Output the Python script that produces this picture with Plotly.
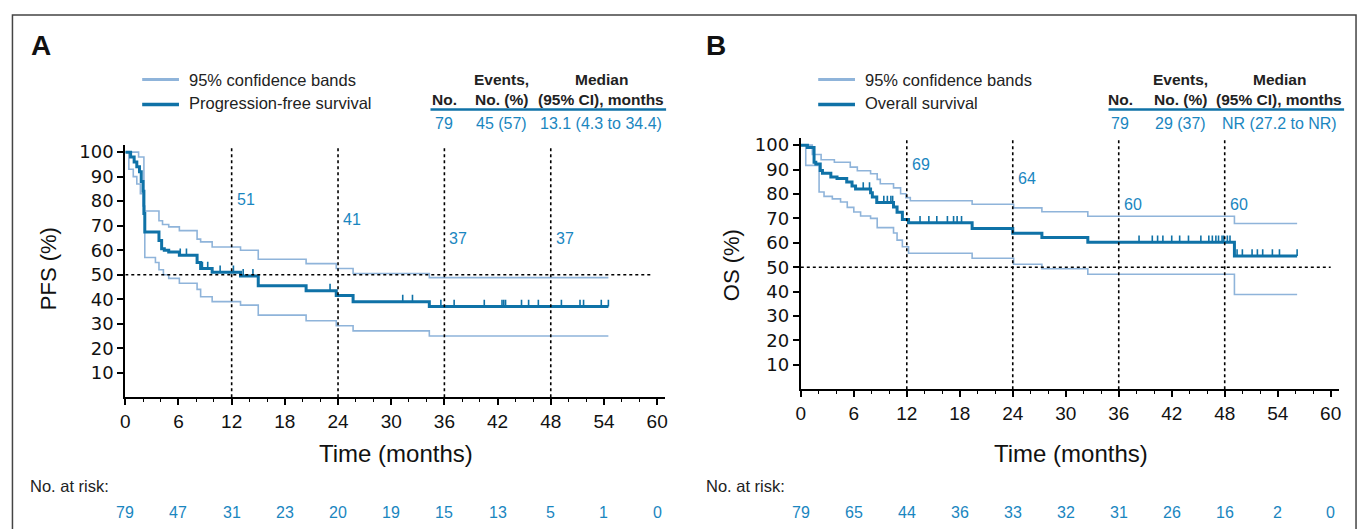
import numpy as np
import plotly.graph_objects as go

# ---------------- data ----------------
month_ticks = [0, 6, 12, 18, 24, 30, 36, 42, 48, 54, 60]
milestones = [12, 24, 36, 48]

# Panel A: progression-free survival (step points)
pfs_t = [0, 0.6, 1.0, 1.3, 1.6, 1.8, 2.0, 2.1, 2.2, 3.8, 4.1, 4.4, 4.9, 6.1, 8.1, 8.5, 9.8,
         13.0, 15.0, 20.4, 23.8, 25.7, 34.3, 54.5]
pfs_s = [100, 98, 96, 94, 92, 88, 84, 75, 67.4, 64, 60.6, 60, 59.3, 57.9, 55, 52.5, 51,
         49.5, 45.5, 43.5, 41.5, 39, 37, 37]
pfs_up_t = [0, 1.5, 2.1, 3.8, 4.2, 4.9, 6.1, 8.1, 8.5, 9.8, 13.0, 15.0, 20.4, 23.8, 25.7, 34.3, 54.5]
pfs_up_s = [100, 98, 76, 72, 70.5, 69.5, 68, 64.5, 63.4, 61.3, 60, 56.3, 54.5, 52.5, 50.5, 48.8, 48.8]
pfs_lo_t = [0, 0.4, 0.9, 1.3, 1.7, 2.0, 2.2, 3.4, 3.8, 4.3, 4.9, 6.1, 8.1, 8.5, 9.8, 13.0, 15.0,
            20.4, 23.8, 25.7, 34.3, 54.5]
pfs_lo_s = [100, 93, 90, 87, 83, 78, 57, 55, 52, 50, 48.5, 46.5, 44, 41, 39, 37.6, 33.5,
            31.2, 29.2, 27.1, 25, 25]
pfs_censor = [6.2, 6.9, 8.7, 9.3, 10.7, 12.2, 13.3, 14.4, 23.1, 31.3, 32.4, 35.6, 37.1, 40.5,
              42.5, 42.7, 42.9, 44.7, 45.5, 46.6, 49.2, 51.3, 51.7, 53.7, 54.5]
pfs_risk = [79, 47, 31, 23, 20, 19, 15, 13, 5, 1, 0]
pfs_milestone_labels = ["51", "41", "37", "37"]
pfs_table = ["79", "45 (57)", "13.1 (4.3 to 34.4)"]

# Panel B: overall survival
os_t = [0, 0.75, 1.5, 1.7, 2.2, 2.45, 3.4, 4.1, 5.2, 5.8, 6.2, 7.9, 8.1, 8.6, 10.5, 10.9, 11.5,
        12.2, 19.4, 24.0, 27.3, 32.5, 49.1, 56.2]
os_s = [100, 99, 93, 92.3, 89.6, 88.5, 87, 86.3, 84.9, 83.3, 82, 80.5, 78.8, 76.5, 74.7, 72.5,
        69.5, 68.2, 65.9, 63.9, 62.2, 60.2, 54.6, 54.6]
os_up_t = [0, 1.3, 2.3, 3.8, 5.6, 6.4, 7.9, 8.65, 9.0, 10.5, 11.3, 11.9, 12.4, 19.4, 24.1, 27.3,
           32.5, 49.1, 56.2]
os_up_s = [100, 96.2, 94, 93, 91, 89.5, 88.3, 86, 84.2, 82.5, 80.1, 78.5, 77.2, 75.8, 74.3, 72.7,
           70.9, 67.9, 67.9]
os_lo_t = [0, 0.56, 2.07, 2.63, 3.57, 4.5, 5.26, 6.0, 6.77, 7.9, 8.65, 10.5, 10.9, 11.5, 12.2,
           19.4, 24.1, 27.3, 32.5, 49.1, 56.2]
os_lo_s = [100, 91.7, 80.8, 79, 78, 76.7, 74.5, 72.6, 71, 70, 66.2, 64, 61.1, 58.4, 55.7,
           53.7, 51.2, 49.4, 47.1, 38.8, 38.8]
os_censor = [7.07, 7.78, 9.4, 9.8, 10.2, 10.4, 13.5, 14.5, 15.4, 16.6, 17.3, 17.7, 18.2,
             38.3, 39.8, 40.4, 41.0, 42.0, 42.9, 43.9, 45.3, 46.2, 46.6, 47.0, 47.3, 47.7, 47.9,
             48.3, 48.6, 49.4, 50.0, 51.1, 51.7, 52.3, 53.4, 54.2, 56.2]
os_risk = [79, 65, 44, 36, 33, 32, 31, 26, 16, 2, 0]
os_milestone_labels = ["69", "64", "60", "60"]
os_table = ["79", "29 (37)", "NR (27.2 to NR)"]

# ---------------- style / layout constants ----------------
W, H = 1364, 529
MAIN = "#0f72a7"
BAND = "#8fb4da"
TXT_BLUE = "#1a86bf"
FONT = "Liberation Sans, Arial, sans-serif"
YFONT = "DejaVu Sans, Liberation Sans, sans-serif"

pfs_label_y = [80.5, 72.7, 64.9, 64.9]
os_label_y = [91.9, 86.4, 75.7, 75.7]


def px(x):
    return x / W


def py(y):
    return 1 - y / H


def step_at(ts, ss, x):
    ts = np.asarray(ts)
    idx = np.searchsorted(ts, x, side="right") - 1
    return ss[int(idx)]


def censor_xy(ts, ss, cens, h=2.8):
    xs, ys = [], []
    for c in cens:
        v = step_at(ts, ss, c)
        xs += [c, c, None]
        ys += [v, v + h, None]
    return xs, ys


fig = go.Figure()

panels = [
    dict(xa="x", ya="y", t=pfs_t, s=pfs_s, ut=pfs_up_t, us=pfs_up_s, lt=pfs_lo_t, ls=pfs_lo_s,
         cens=pfs_censor, hend=59.5),
    dict(xa="x2", ya="y2", t=os_t, s=os_s, ut=os_up_t, us=os_up_s, lt=os_lo_t, ls=os_lo_s,
         cens=os_censor, hend=60),
]

shapes = []
annotations = []

for p in panels:
    fig.add_trace(go.Scatter(x=p["ut"], y=p["us"], mode="lines", line=dict(color=BAND, width=1.6, shape="hv"),
                             xaxis=p["xa"], yaxis=p["ya"], showlegend=False, hoverinfo="skip"))
    fig.add_trace(go.Scatter(x=p["lt"], y=p["ls"], mode="lines", line=dict(color=BAND, width=1.6, shape="hv"),
                             xaxis=p["xa"], yaxis=p["ya"], showlegend=False, hoverinfo="skip"))
    fig.add_trace(go.Scatter(x=p["t"], y=p["s"], mode="lines", line=dict(color=MAIN, width=3, shape="hv"),
                             xaxis=p["xa"], yaxis=p["ya"], showlegend=False))
    cx, cy = censor_xy(p["t"], p["s"], p["cens"])
    fig.add_trace(go.Scatter(x=cx, y=cy, mode="lines", line=dict(color=MAIN, width=1.6),
                             xaxis=p["xa"], yaxis=p["ya"], showlegend=False, hoverinfo="skip"))
    # reference lines
    for m in milestones:
        shapes.append(dict(type="line", xref=p["xa"], yref=p["ya"], x0=m, x1=m, y0=0, y1=102,
                           line=dict(color="black", width=1.6, dash="dot")))
    shapes.append(dict(type="line", xref=p["xa"], yref=p["ya"], x0=0, x1=p["hend"], y0=50, y1=50,
                       line=dict(color="black", width=1.6, dash="dot")))

# milestone labels
for xa, ya, labs, ys in [("x", "y", pfs_milestone_labels, pfs_label_y),
                         ("x2", "y2", os_milestone_labels, os_label_y)]:
    for m, lab, yv in zip(milestones, labs, ys):
        annotations.append(dict(x=m, y=yv, xref=xa, yref=ya, text=lab, showarrow=False,
                                xanchor="left", yanchor="middle", xshift=3,
                                font=dict(family=FONT, size=16, color=TXT_BLUE)))

# frame
shapes.append(dict(type="path", xref="paper", yref="paper",
                   path=f"M {px(7.5)} {py(540)} L {px(7.5)} {py(12)} L {px(1359)} {py(12)} L {px(1359)} {py(540)}",
                   line=dict(color="#444444", width=1.5)))

panel_cfg = [
    dict(letter="A", lx=24, leg_x=138, leg2="Progression-free survival", ytitle="PFS (%)", ytx=44, yty=267,
         xtitle_x=393, xa="x", risk=pfs_risk, risk_label_x=23,
         tab_cols=[442, 499, 600], tab_line=(428, 665), table=pfs_table),
    dict(letter="B", lx=703, leg_x=818, leg2="Overall survival", ytitle="OS (%)", ytx=731, yty=264,
         xtitle_x=1072, xa="x2", risk=os_risk, risk_label_x=703,
         tab_cols=[1122, 1182, 1282], tab_line=(1110, 1347), table=os_table),
]

for c in panel_cfg:
    annotations.append(dict(x=px(c["lx"]), y=py(43), xref="paper", yref="paper", text="<b>%s</b>" % c["letter"],
                            showarrow=False, xanchor="left", yanchor="middle",
                            font=dict(family=FONT, size=28, color="#111111")))
    # legend
    shapes.append(dict(type="line", xref="paper", yref="paper", x0=px(c["leg_x"]), x1=px(c["leg_x"] + 37),
                       y0=py(77), y1=py(77), line=dict(color=BAND, width=3)))
    shapes.append(dict(type="line", xref="paper", yref="paper", x0=px(c["leg_x"]), x1=px(c["leg_x"] + 37),
                       y0=py(102), y1=py(102), line=dict(color=MAIN, width=3.5)))
    annotations.append(dict(x=px(c["leg_x"] + 45), y=py(77), xref="paper", yref="paper",
                            text="95% confidence bands", showarrow=False, xanchor="left", yanchor="middle",
                            font=dict(family=FONT, size=16.5, color="#222222")))
    annotations.append(dict(x=px(c["leg_x"] + 45), y=py(101), xref="paper", yref="paper",
                            text=c["leg2"], showarrow=False, xanchor="left", yanchor="middle",
                            font=dict(family=FONT, size=16.5, color="#222222")))
    # summary table
    c0, c1, c2 = c["tab_cols"]
    hdr = [(c0, 97, "No."), (c1, 77, "Events,"), (c1, 97, "No. (%)"), (c2, 77, "Median"),
           (c2, 97, "(95% CI), months")]
    for hx, hy, ht in hdr:
        annotations.append(dict(x=px(hx), y=py(hy), xref="paper", yref="paper", text="<b>%s</b>" % ht,
                                showarrow=False, xanchor="center", yanchor="middle",
                                font=dict(family=FONT, size=15.5, color="#222222")))
    shapes.append(dict(type="line", xref="paper", yref="paper", x0=px(c["tab_line"][0]), x1=px(c["tab_line"][1]),
                       y0=py(107), y1=py(107), line=dict(color=MAIN, width=2.5)))
    for hx, val in zip(c["tab_cols"], c["table"]):
        annotations.append(dict(x=px(hx), y=py(121), xref="paper", yref="paper", text=val,
                                showarrow=False, xanchor="center", yanchor="middle",
                                font=dict(family=FONT, size=16, color=TXT_BLUE)))
    # axis titles
    annotations.append(dict(x=px(c["ytx"]), y=py(c["yty"]), xref="paper", yref="paper", text=c["ytitle"],
                            showarrow=False, textangle=-90, xanchor="center", yanchor="middle",
                            font=dict(family=FONT, size=22, color="#111111")))
    annotations.append(dict(x=px(c["xtitle_x"]), y=py(453), xref="paper", yref="paper", text="Time (months)",
                            showarrow=False, xanchor="center", yanchor="middle",
                            font=dict(family=FONT, size=24, color="#111111")))
    # number at risk
    annotations.append(dict(x=px(c["risk_label_x"]), y=py(486), xref="paper", yref="paper", text="No. at risk:",
                            showarrow=False, xanchor="left", yanchor="middle",
                            font=dict(family=FONT, size=16.5, color="#222222")))
    for m, r in zip(month_ticks, c["risk"]):
        annotations.append(dict(x=m, y=py(512), xref=c["xa"], yref="paper", text=str(r),
                                showarrow=False, xanchor="center", yanchor="middle",
                                font=dict(family=FONT, size=16, color=TXT_BLUE)))

xcommon = dict(range=[0, 60.9], tickvals=month_ticks, ticks="outside", ticklen=6, tickwidth=1.5,
               tickcolor="black", showline=True, linecolor="black", linewidth=2, showgrid=False,
               zeroline=False, tickfont=dict(family=FONT, size=19, color="#111111"),
               minor=dict(dtick=2, tick0=0, ticks="outside", ticklen=3, tickwidth=1.2, tickcolor="black"),
               fixedrange=True)
ycommon = dict(range=[0, 103], tickvals=[10, 20, 30, 40, 50, 60, 70, 80, 90, 100], ticks="outside",
               ticklen=6, tickwidth=1.5, tickcolor="black", showline=True, linecolor="black", linewidth=2,
               showgrid=False, zeroline=False, tickfont=dict(family=YFONT, size=18, color="#111111"),
               fixedrange=True)

fig.update_layout(
    width=W, height=H, margin=dict(l=0, r=0, t=0, b=0),
    paper_bgcolor="white", plot_bgcolor="white", showlegend=False,
    xaxis=dict(domain=[px(121), px(664)], anchor="y", **xcommon),
    yaxis=dict(domain=[py(396.5), py(142.6)], anchor="x", **ycommon),
    xaxis2=dict(domain=[px(800.5), px(1341.5)], anchor="y2", **xcommon),
    yaxis2=dict(domain=[py(388.5), py(135.6)], anchor="x2", **ycommon),
    shapes=shapes, annotations=annotations,
)

fig.write_html("out.html", config={"displayModeBar": False},
               post_script="document.body.style.margin='0';document.body.style.padding='0';"
                           "document.documentElement.style.overflow='hidden';")
